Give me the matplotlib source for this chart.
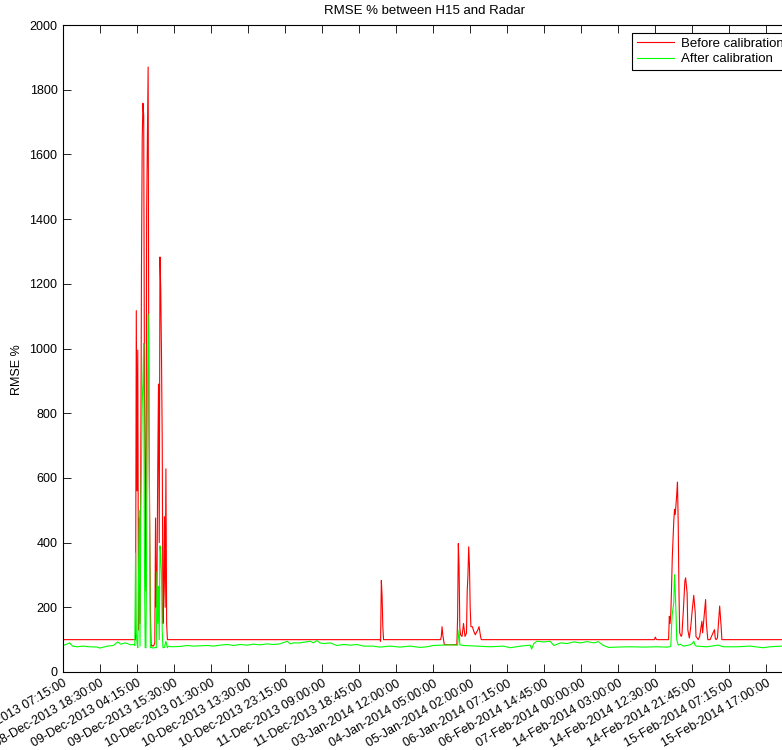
import matplotlib
matplotlib.use("Agg")
import matplotlib.pyplot as plt

plt.rcParams['font.family'] = ['Liberation Sans', 'DejaVu Sans']

# ============================
# Datos (x = indice de muestra)
# ============================
tick_idx = list(range(0, 951, 50))
tick_labels = [
    "08-Dec-2013 07:15:00", "08-Dec-2013 18:30:00", "09-Dec-2013 04:15:00",
    "09-Dec-2013 15:30:00", "10-Dec-2013 01:30:00", "10-Dec-2013 13:30:00",
    "10-Dec-2013 23:15:00", "11-Dec-2013 09:00:00", "11-Dec-2013 18:45:00",
    "03-Jan-2014 12:00:00", "04-Jan-2014 05:00:00", "05-Jan-2014 02:00:00",
    "06-Jan-2014 07:15:00", "06-Feb-2014 14:45:00", "07-Feb-2014 00:00:00",
    "14-Feb-2014 03:00:00", "14-Feb-2014 12:30:00", "14-Feb-2014 21:45:00",
    "15-Feb-2014 07:15:00", "15-Feb-2014 17:00:00",
]

antes_idx = [0, 98,
             99, 100, 101, 102, 103, 104, 105, 106, 107, 108, 109, 110, 111, 112,
             113, 114, 115, 116, 117, 118, 119, 120, 121, 122, 123, 124, 125, 126,
             127, 128, 129, 130, 131, 132, 133, 134, 135, 136, 137, 138, 139, 140,
             141, 428, 429, 430, 431, 432, 433,
             510, 511, 512, 513, 514, 515, 524, 532,
             533, 534, 535, 536, 537, 539, 541, 543, 545, 546, 547, 548, 549, 550,
             551, 553, 555, 557, 559, 560, 562, 564, 565,
             799, 800, 801, 802,
             818, 819, 820, 821, 822, 823, 825, 826, 827, 829, 830, 831, 832, 833,
             835, 836, 838, 840, 841, 843, 844, 846, 848, 850, 852, 854, 855, 858,
             860, 863, 864, 866, 868, 869, 871, 874, 880, 881, 882, 884, 886, 887,
             889, 890, 982]
antes_val = [100, 100,
             1117, 560, 995, 130, 476, 150, 600, 1246, 1648, 1758, 1720, 900, 550, 250,
             1428, 1660, 1870, 806, 500, 195, 85, 80, 82, 80, 84, 90, 476, 200,
             300, 635, 890, 400, 1283, 1184, 989, 720, 150, 250, 480, 200, 628, 150,
             100, 100, 95, 283, 235, 140, 100,
             100, 110, 140, 115, 100, 85, 84, 85,
             165, 397, 326, 138, 115, 110, 150, 110, 120, 250, 300, 387, 330, 200,
             140, 140, 125, 115, 125, 128, 140, 110, 100,
             100, 108, 103, 100,
             100, 172, 150, 180, 260, 354, 466, 503, 487, 549, 587, 458, 250, 121,
             110, 115, 193, 281, 291, 245, 130, 105, 141, 193, 237, 183, 110, 100,
             110, 157, 121, 172, 224, 152, 100, 100, 131, 105, 100, 105, 169, 204,
             140, 100, 100]

despues_idx = [0, 5, 9, 13, 19, 27, 36, 46, 50, 60, 68, 74, 78, 84, 87, 91, 96, 97,
               98, 99, 100, 101, 102, 103, 104, 105, 106, 107, 108, 109, 110, 111,
               112, 113, 114, 115, 116, 117, 118, 119, 122, 125, 126, 127, 128, 129,
               130, 131, 132, 133, 134, 135, 137, 139, 141,
               142, 147, 158, 168, 176, 185, 195, 203, 212, 222, 230, 239, 249, 257,
               266, 276, 284, 293, 303, 307, 311, 316, 320, 325, 334, 338, 343, 347,
               352, 361, 370, 379, 388, 397, 406, 419, 428, 442, 455, 469, 482, 492,
               500, 510, 523, 533, 535, 536, 541, 559, 577, 595, 604, 618, 631, 633,
               636, 640, 649, 658, 663, 672, 681, 690, 699, 708, 717, 723, 730, 737,
               748, 766, 784, 802, 816, 820, 821, 822, 823, 825, 826, 827, 828, 829,
               831, 834, 838, 843, 847, 850, 852, 854, 856, 870, 885, 892, 910, 928,
               946, 955, 970, 982]
despues_val = [82, 86, 90, 80, 78, 80, 78, 77, 74, 80, 82, 93, 86, 90, 88, 84, 85, 82,
               368, 120, 90, 75, 300, 500, 80, 500, 645, 831, 900, 1015, 345, 75,
               75, 390, 840, 1105, 940, 415, 75, 76, 74, 76, 75, 310, 150, 265,
               100, 390, 360, 305, 130, 75, 76, 95, 75,
               80, 78, 79, 82, 80, 81, 82, 80, 83, 85, 82, 85, 83, 86,
               84, 87, 85, 87, 95, 87, 90, 90, 90, 92, 95, 90, 97, 90,
               88, 90, 82, 85, 83, 85, 80, 80, 77, 80, 77, 80, 76, 78,
               82, 83, 84, 83, 130, 84, 82, 80, 78, 80, 75, 80, 83, 71,
               88, 95, 93, 95, 82, 90, 88, 93, 90, 94, 90, 94, 82, 76,
               77, 78, 77, 78, 77, 78, 80, 141, 180, 214, 301, 250, 184, 100,
               83, 86, 80, 82, 84, 88, 95, 82, 80, 78, 83, 78, 78, 80,
               75, 78, 80, 79]


def dibujar():
    fig = plt.figure(figsize=(7.82, 7.5), dpi=100)
    # el eje se sale un poco por la derecha, como en la imagen original
    ax = fig.add_axes([63 / 782, 78 / 750, 727 / 782, 647 / 750])

    ax.plot(antes_idx, antes_val, color='#ff0000', lw=0.8, label='Before calibration')
    ax.plot(despues_idx, despues_val, color='#00ff00', lw=0.8, label='After calibration')

    ax.set_xlim(0, 982)
    ax.set_ylim(0, 2000)
    ax.set_yticks(range(0, 2001, 200))
    ax.set_xticks(tick_idx)
    ax.set_xticklabels(tick_labels, rotation=30, ha='right', va='top',
                       rotation_mode='anchor')
    ax.tick_params(direction='in', top=True, right=True, length=5.5,
                   width=0.6, labelsize=9, pad=4)
    for s in ax.spines.values():
        s.set_linewidth(0.8)

    ax.set_ylabel('RMSE %', fontsize=9)
    ax.yaxis.set_label_coords(-0.055, 0.467)

    fig.text(425 / 782, 1 - 11 / 750, 'RMSE % between H15 and Radar',
             ha='center', va='center', fontsize=9.5)

    leg = ax.legend(loc='upper left', bbox_to_anchor=(632 / 782, 1 - 33 / 750),
                    bbox_transform=fig.transFigure, borderaxespad=0,
                    fancybox=False, framealpha=1, edgecolor='k', fontsize=9.5,
                    handlelength=2.8, handletextpad=0.6, labelspacing=0.25,
                    borderpad=0.35)
    leg.get_frame().set_linewidth(0.8)

    fig.savefig('out.png', dpi=100)


if __name__ == "__main__":
    dibujar()
